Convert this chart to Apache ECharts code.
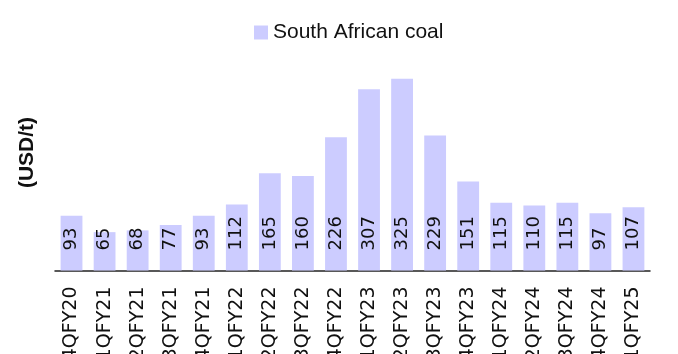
<!DOCTYPE html>
<html>
<head>
<meta charset="utf-8">
<script src="https://cdn.jsdelivr.net/npm/echarts@6/dist/echarts.min.js"></script>
<style>
  html, body { margin: 0; padding: 0; background: #fff; }
  #chart { width: 678px; height: 354px; }
</style>
</head>
<body>
<div id="chart"></div>
<script>
const quarters = ['4QFY20', '1QFY21', '2QFY21', '3QFY21', '4QFY21', '1QFY22', '2QFY22', '3QFY22', '4QFY22',
    '1QFY23', '2QFY23', '3QFY23', '4QFY23', '1QFY24', '2QFY24', '3QFY24', '4QFY24', '1QFY25'];
const coalPrice = [93, 65, 68, 77, 93, 112, 165, 160, 226, 307, 325, 229, 151, 115, 110, 115, 97, 107];

let chart = echarts.init(document.getElementById('chart'));

const option = {
    animation: false,
    legend: {
        left: 249,
        top: 17,
        itemWidth: 14,
        itemHeight: 14,
        itemGap: 6,
        icon: 'rect',
        textStyle: { fontFamily: 'Liberation Sans', fontSize: 21, color: '#111' },
        data: ['South African coal']
    },
    grid: {
        left: 55,
        right: 28,
        top: 34.5,
        bottom: 83.5,
        outerBoundsMode: 'none',
        containLabel: false
    },
    xAxis: {
        type: 'category',
        data: quarters,
        axisLine: { lineStyle: { color: '#222', width: 1.5 } },
        axisTick: { show: false },
        axisLabel: {
            rotate: 90,
            margin: 16,
            interval: 0,
            fontFamily: 'DejaVu Sans',
            fontSize: 19,
            color: '#111'
        }
    },
    yAxis: {
        type: 'value',
        min: 0,
        max: 400,
        axisLine: { show: false },
        axisTick: { show: false },
        axisLabel: { show: false },
        splitLine: { show: false },
        name: '(USD/t)',
        nameLocation: 'middle',
        nameRotate: 90,
        nameGap: 17,
        nameTextStyle: { fontFamily: 'Liberation Sans', fontWeight: 'bold', fontSize: 21, color: '#111' }
    },
    series: [{
        name: 'South African coal',
        type: 'bar',
        data: coalPrice,
        barCategoryGap: '34%',
        itemStyle: { color: '#CCCCFF' },
        label: {
            show: true,
            position: 'insideBottom',
            rotate: 90,
            align: 'left',
            verticalAlign: 'middle',
            distance: 20,
            fontFamily: 'DejaVu Sans',
            fontSize: 18,
            color: '#111'
        }
    }]
};

option && chart.setOption(option);
window.addEventListener('resize', chart.resize);
</script>
</body>
</html>
